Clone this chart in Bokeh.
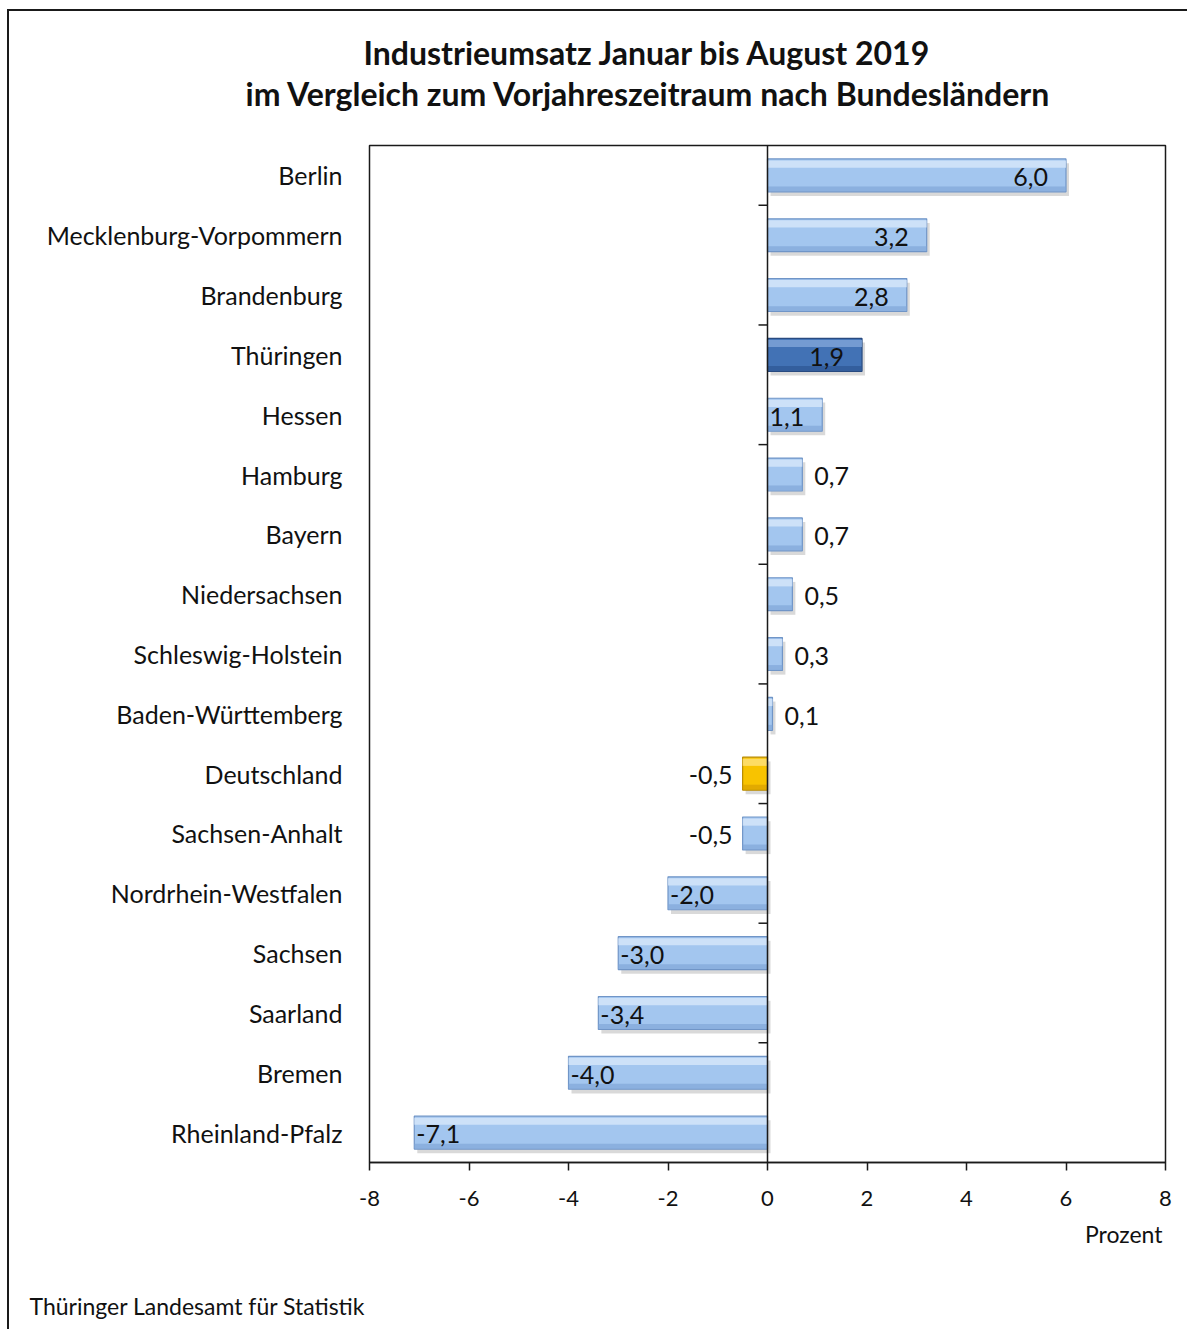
from bokeh.plotting import figure
from bokeh.models import FactorRange, Range1d, Title, Span, ColumnDataSource, FixedTicker
from bokeh.transform import dodge
from bokeh.core.properties import value
from bokeh.embed import file_html
from bokeh.resources import INLINE

# ---------------- data ----------------
states = ["Berlin", "Mecklenburg-Vorpommern", "Brandenburg", "Thüringen", "Hessen",
          "Hamburg", "Bayern", "Niedersachsen", "Schleswig-Holstein", "Baden-Württemberg",
          "Deutschland", "Sachsen-Anhalt", "Nordrhein-Westfalen", "Sachsen", "Saarland",
          "Bremen", "Rheinland-Pfalz"]
change = [6.0, 3.2, 2.8, 1.9, 1.1, 0.7, 0.7, 0.5, 0.3, 0.1,
          -0.5, -0.5, -2.0, -3.0, -3.4, -4.0, -7.1]
x_ticks = [-8, -6, -4, -2, 0, 2, 4, 6, 8]
title_line1 = "Industrieumsatz Januar bis August 2019"
title_line2 = "im Vergleich zum Vorjahreszeitraum nach Bundesländern"
unit_label = "Prozent"
source_note = "Thüringer Landesamt für Statistik"
highlight_state = "Thüringen"
total_state = "Deutschland"

FONT = "Lato"
X_MIN, X_MAX = -8, 8
FRAME_W, FRAME_H = 796, 1017
px = (X_MAX - X_MIN) / FRAME_W  # data units per pixel

# ---------------- styling per bar ----------------
fill, top, bottom, edge = [], [], [], []
for s in states:
    if s == highlight_state:
        fill.append("#4272b5"); top.append("#86aadc"); bottom.append("#2d5593"); edge.append("#284a80")
    elif s == total_state:
        fill.append("#f8c300"); top.append("#ffe486"); bottom.append("#d8a000"); edge.append("#b88a00")
    else:
        fill.append("#a3c6ef"); top.append("#dbeafb"); bottom.append("#80a6d8"); edge.append("#7095c7")

lefts = [min(0, v) for v in change]
rights = [max(0, v) for v in change]
labels = [f"{v:.1f}".replace(".", ",") for v in change]
aligns, offs = [], []
for v in change:
    if v >= 1:
        aligns.append("right"); offs.append(-18)
    elif v > 0:
        aligns.append("left"); offs.append(12)
    elif v <= -1:
        aligns.append("left"); offs.append(2)
    else:
        aligns.append("right"); offs.append(-10)

src = ColumnDataSource(dict(state=states, v=change, left=lefts, right=rights,
                            sh_left=[l + 3 * px for l in lefts], sh_right=[r + 3 * px for r in rights],
                            fill=fill, top=top, bottom=bottom, edge=edge,
                            label=labels, align=aligns, off=offs))

p = figure(frame_width=FRAME_W, frame_height=FRAME_H, output_backend="svg", toolbar_location=None,
           y_range=FactorRange(factors=list(reversed(states))),
           x_range=Range1d(X_MIN, X_MAX),
           min_border_left=360, min_border_right=22, min_border_top=134, min_border_bottom=167)
p.styles = {"border-left": "2px solid #1a1a1a", "border-top": "2px solid #1a1a1a",
            "margin-left": "7px", "margin-top": "9px"}
p.background_fill_color = "white"
p.border_fill_color = "white"
p.outline_line_color = "#1a1a1a"
p.outline_line_width = 1.5
p.xgrid.visible = False
p.ygrid.visible = False

# shadow
p.hbar(y=dodge("state", -0.07, range=p.y_range), left="sh_left", right="sh_right", height=0.55,
       source=src, fill_color="#000000", fill_alpha=0.15, line_color=None)
# main bar
p.hbar(y="state", left="left", right="right", height=0.55, source=src,
       fill_color="fill", line_color="edge", line_width=1.2)
# bevel highlight and bottom shade
p.hbar(y=dodge("state", 0.19, range=p.y_range), left="left", right="right", height=0.12, source=src,
       fill_color="top", fill_alpha=0.75, line_color=None)
p.hbar(y=dodge("state", -0.225, range=p.y_range), left="left", right="right", height=0.08, source=src,
       fill_color="bottom", fill_alpha=0.7, line_color=None)

# value labels
p.text(x="v", y=dodge("state", -0.03, range=p.y_range), text="label", source=src,
       text_align="align", x_offset="off", text_baseline="middle",
       text_font=value(FONT), text_font_size="25px", text_color="#111111")

# zero axis line with ticks between every second category
p.add_layout(Span(location=0, dimension="height", line_color="#1a1a1a", line_width=1.5))
n = len(states)
tick_y = [float(k) for k in range(2, n, 2)]
p.segment(x0=[0] * len(tick_y), x1=[-9 * px] * len(tick_y), y0=tick_y, y1=tick_y,
          line_color="#1a1a1a", line_width=1.5)

# axes
p.xaxis.ticker = FixedTicker(ticks=x_ticks)
p.xaxis.major_label_overrides = {t: str(t) for t in x_ticks}
p.xaxis.axis_line_color = "#1a1a1a"
p.xaxis.axis_line_width = 1.5
p.xaxis.major_tick_line_color = "#1a1a1a"
p.xaxis.major_tick_line_width = 1.5
p.xaxis.major_tick_in = 0
p.xaxis.major_tick_out = 8
p.xaxis.minor_tick_line_color = None
p.xaxis.major_label_standoff = 20
p.xaxis.major_label_text_font = FONT
p.xaxis.major_label_text_font_size = "22px"
p.xaxis.major_label_text_color = "#111111"

p.yaxis.axis_line_color = None
p.yaxis.major_tick_line_color = None
p.yaxis.minor_tick_line_color = None
p.yaxis.major_tick_out = 0
p.yaxis.major_tick_in = 0
p.yaxis.major_label_standoff = 27
p.yaxis.major_label_text_font = FONT
p.yaxis.major_label_text_font_size = "25px"
p.yaxis.major_label_text_color = "#111111"


def spacer(gap):
    return Title(text=" ", text_font_size="1px", standoff=gap)


# two-line title (panels stack outward from the frame)
p.add_layout(spacer(30), "above")
p.add_layout(Title(text=title_line2, align="left", offset=-124, standoff=0, vertical_align="bottom",
                   text_font=FONT, text_font_size="32px", text_font_style="bold",
                   text_color="#111111"), "above")
p.add_layout(Title(text=title_line1, align="left", offset=-6, standoff=0, vertical_align="bottom",
                   text_font=FONT, text_font_size="32px", text_font_style="bold",
                   text_color="#111111"), "above")

# unit label and source note below
p.add_layout(Title(text=unit_label, align="right", offset=3, standoff=18,
                   text_font=FONT, text_font_size="23px", text_font_style="normal",
                   text_color="#111111"), "below")
p.add_layout(spacer(30), "below")
p.add_layout(Title(text=source_note, align="left", offset=-340, standoff=0, vertical_align="bottom",
                   text_font=FONT, text_font_size="23px", text_font_style="normal",
                   text_color="#111111"), "below")

open("out.html", "w").write(file_html(p, INLINE))
